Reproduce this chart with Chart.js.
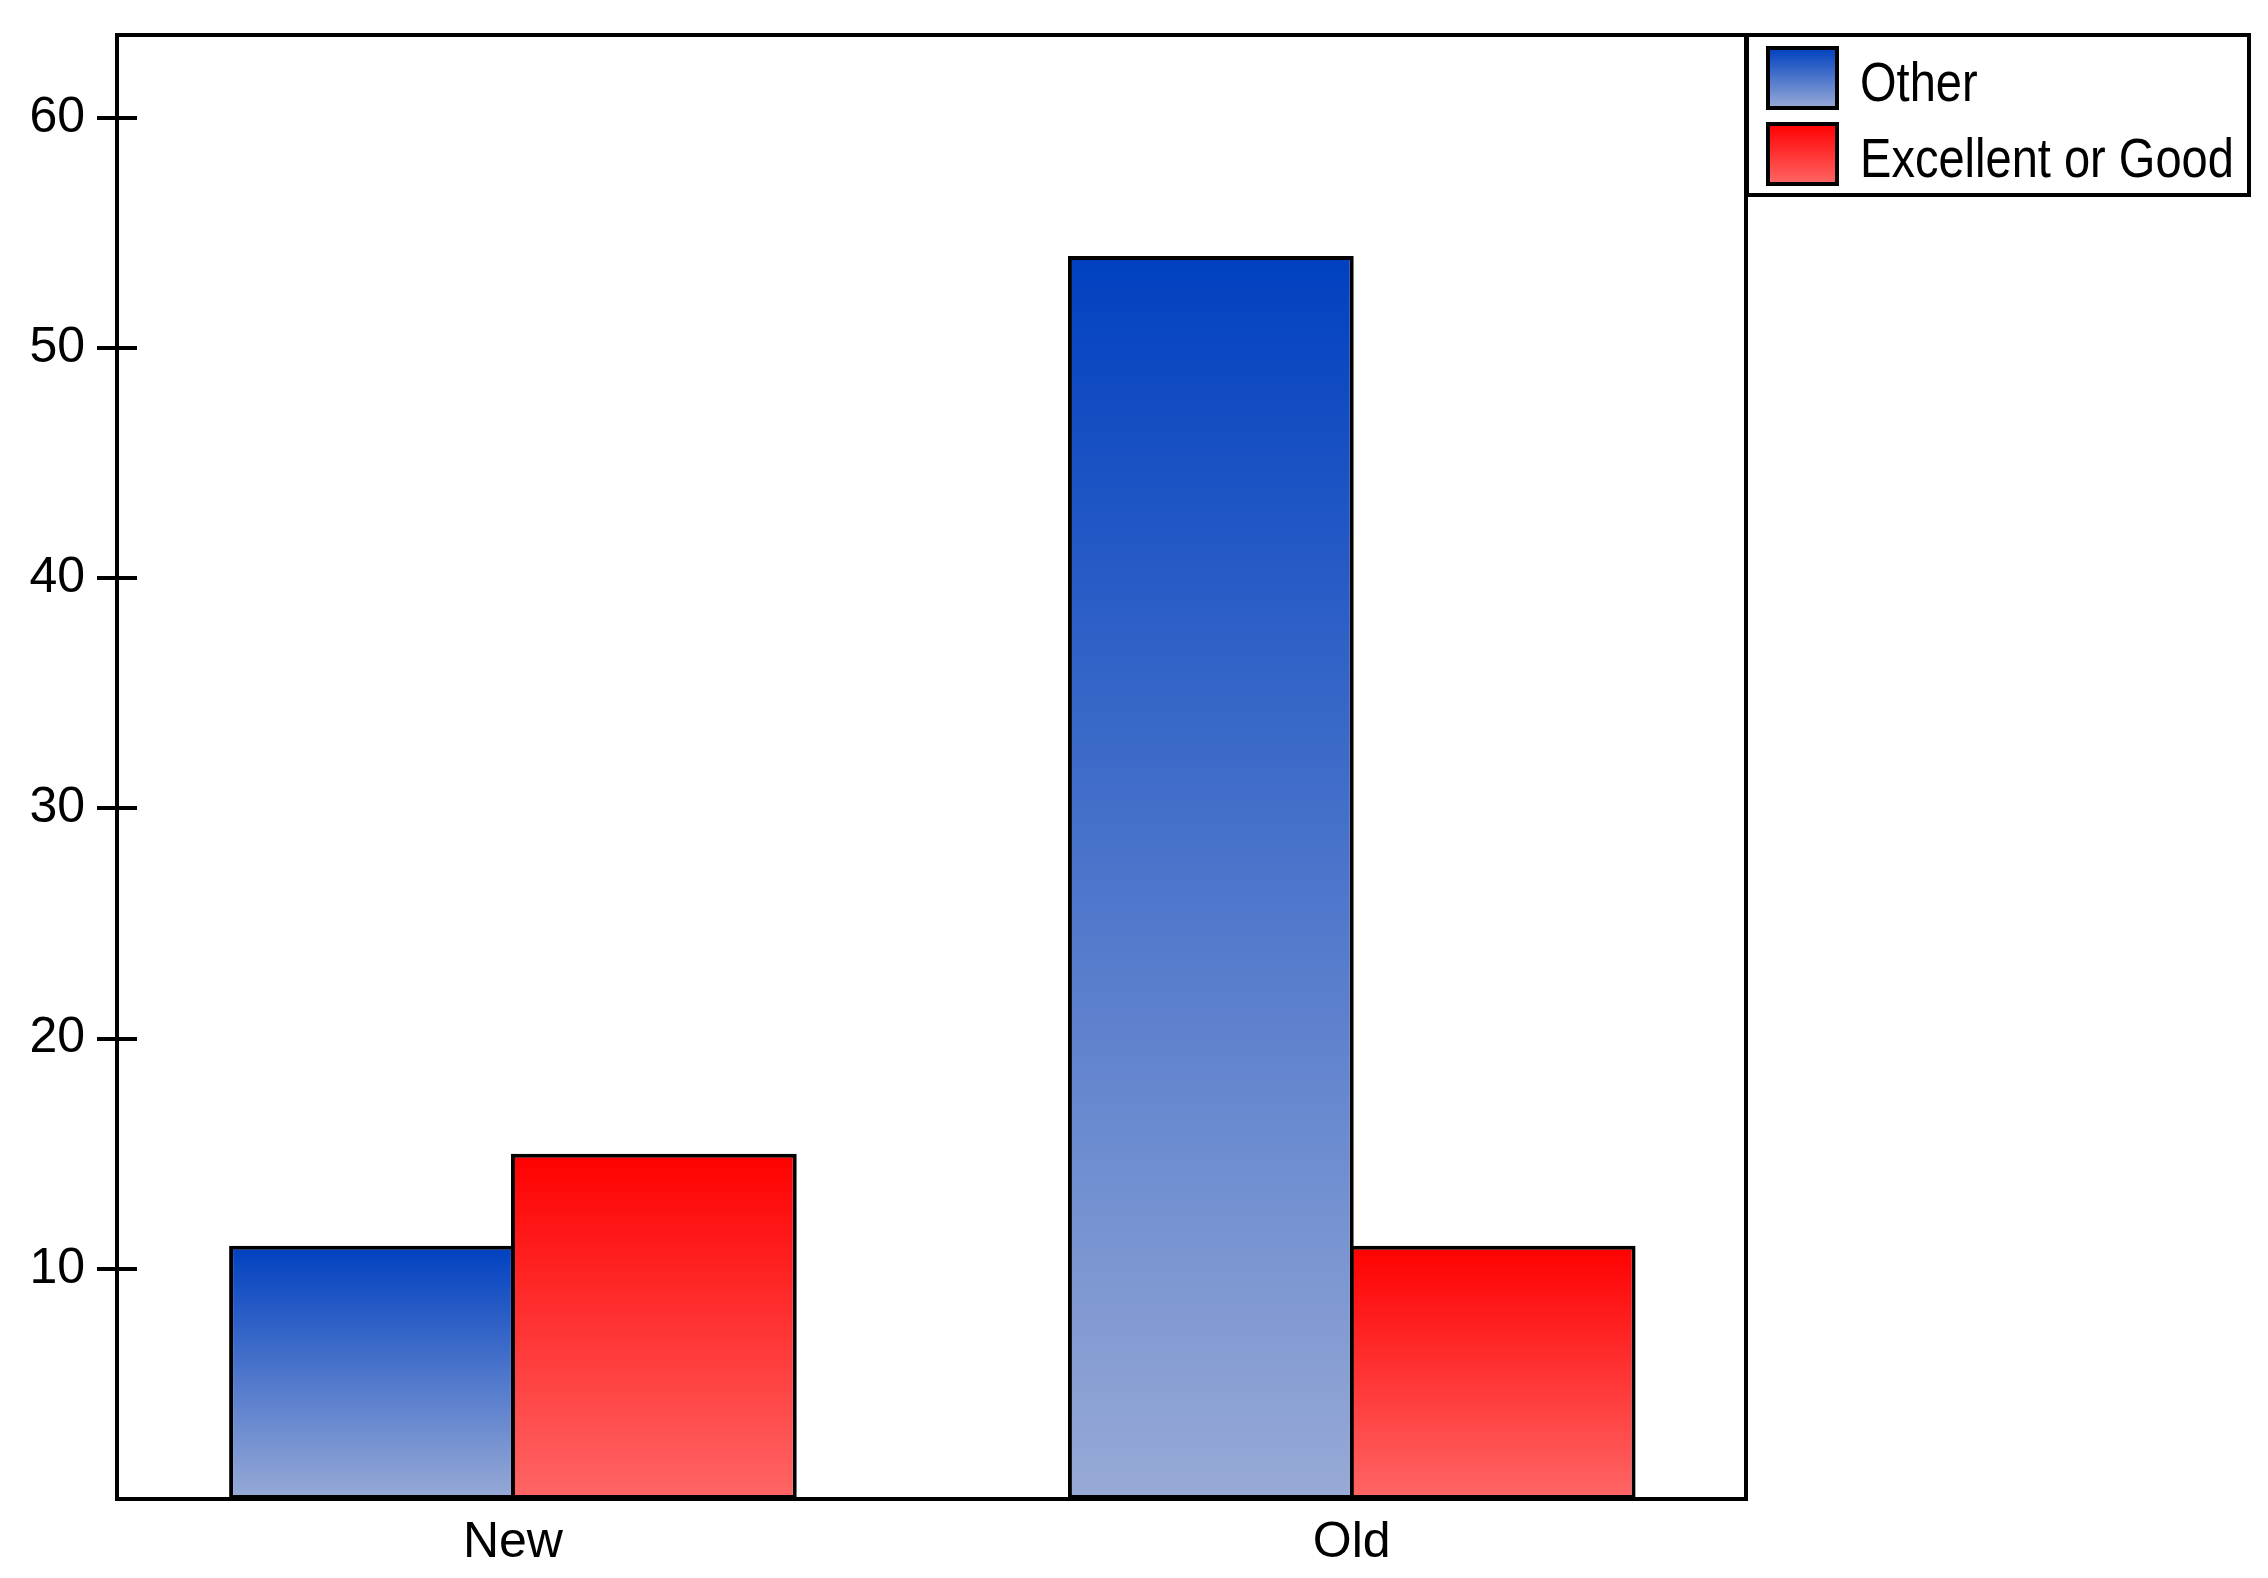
<!DOCTYPE html>
<html>
<head>
<meta charset="utf-8">
<script src="https://cdn.jsdelivr.net/npm/chart.js@4/dist/chart.umd.min.js"></script>
<style>
  html, body { margin: 0; padding: 0; background: #fff; }
  #chart { display: block; }
</style>
</head>
<body>
<canvas id="chart" width="2268" height="1578"></canvas>
<script>
const categories = ['New', 'Old'];
const otherValues = [11, 54];
const excellentValues = [15, 11];
const seriesLabels = ['Other', 'Excellent or Good'];
const yTickValues = [10, 20, 30, 40, 50, 60];

const FONT = "'Liberation Sans', Arial, sans-serif";
const BLUE = ['#0040C0', '#98AAD6'];
const RED = ['#FF0000', '#FF6666'];

function barGradient(c, colors) {
  const chart = c.chart;
  const y = chart.scales.y;
  if (!chart.chartArea || !y || c.raw == null) return colors[0];
  const top = y.getPixelForValue(c.raw);
  const base = y.getPixelForValue(0);
  const g = chart.ctx.createLinearGradient(0, top, 0, base);
  g.addColorStop(0, colors[0]);
  g.addColorStop(1, colors[1]);
  return g;
}

// frame round the plot, inner halves of the y ticks, and the boxed legend
const framePlugin = {
  id: 'frame',
  afterDraw(chart) {
    const { ctx, chartArea: a, scales } = chart;
    ctx.save();
    ctx.strokeStyle = '#000';
    ctx.lineWidth = 4;
    ctx.strokeRect(a.left, a.top, a.right - a.left, a.bottom - a.top);

    scales.y.ticks.forEach(t => {
      const py = Math.round(scales.y.getPixelForValue(t.value));
      ctx.beginPath();
      ctx.moveTo(a.left, py);
      ctx.lineTo(a.left + 20, py);
      ctx.stroke();
    });

    // legend
    const lx = a.right + 1, ly = a.top, lw = 502, lh = 160;
    ctx.strokeRect(lx, ly, lw, lh);
    const colors = [BLUE, RED];
    chart.data.datasets.forEach((ds, i) => {
      const sx = lx + 21, sy = ly + 13 + i * 76, sw = 69, sh = 60;
      const g = ctx.createLinearGradient(0, sy, 0, sy + sh);
      g.addColorStop(0, colors[i][0]);
      g.addColorStop(1, colors[i][1]);
      ctx.fillStyle = g;
      ctx.fillRect(sx, sy, sw, sh);
      ctx.strokeRect(sx, sy, sw, sh);
      ctx.save();
      ctx.translate(lx + 113, sy + 53);
      ctx.scale(0.84, 1);
      ctx.fillStyle = '#000';
      ctx.font = '56px ' + FONT;
      ctx.textBaseline = 'alphabetic';
      ctx.textAlign = 'left';
      ctx.fillText(ds.label, 0, 0);
      ctx.restore();
    });
    ctx.restore();
  }
};

new Chart(document.getElementById('chart'), {
  type: 'bar',
  data: {
    labels: categories,
    datasets: [
      {
        label: seriesLabels[0],
        data: otherValues,
        backgroundColor: c => barGradient(c, BLUE),
        borderColor: '#000',
        borderWidth: 4,
        borderSkipped: false
      },
      {
        label: seriesLabels[1],
        data: excellentValues,
        backgroundColor: c => barGradient(c, RED),
        borderColor: '#000',
        borderWidth: 4,
        borderSkipped: false
      }
    ]
  },
  options: {
    responsive: false,
    animation: false,
    datasets: {
      // bars overlap slightly so neighbours share one border line
      bar: { categoryPercentage: 0.672, barPercentage: 1.014 }
    },
    layout: { padding: { top: 35, right: 522, left: 0, bottom: 0 } },
    plugins: {
      legend: { display: false },
      tooltip: { enabled: false }
    },
    scales: {
      x: {
        grid: { display: false },
        border: { display: true, color: '#000', width: 4 },
        ticks: { color: '#000', font: { family: FONT, size: 50 }, padding: 6 },
        afterBuildTicks: s => {
          // the groups sit a little inward of the plain category centres
          s._startValue = -0.472;
          s._valueRange = 1.942;
        },
        afterFit: s => { s.height = 79; s.paddingLeft = 0; s.paddingRight = 0; }
      },
      y: {
        min: 0,
        max: 63.6,
        grid: { drawOnChartArea: false, drawTicks: true, tickLength: 20, color: '#000', lineWidth: 4 },
        border: { display: true, color: '#000', width: 4 },
        ticks: { color: '#000', font: { family: FONT, size: 50 }, padding: 12 },
        afterBuildTicks: s => { s.ticks = yTickValues.map(v => ({ value: v })); },
        afterFit: s => { s.width = 117; s.paddingTop = 0; s.paddingBottom = 0; }
      }
    }
  },
  plugins: [framePlugin]
});
</script>
</body>
</html>
